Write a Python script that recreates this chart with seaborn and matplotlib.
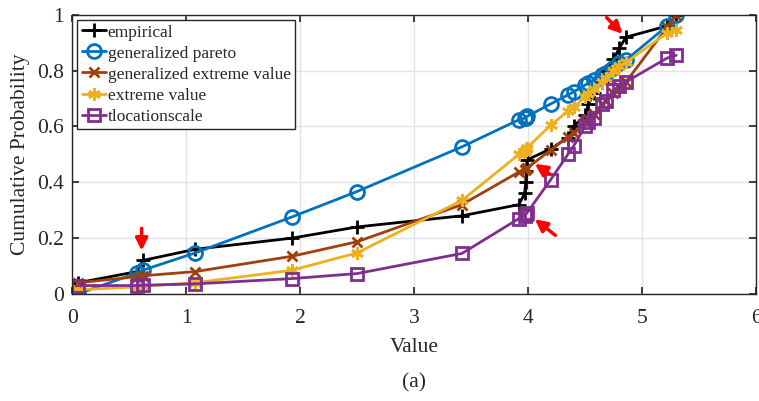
import numpy as np
import pandas as pd
import seaborn as sns
import matplotlib.pyplot as plt
from matplotlib.ticker import FormatStrFormatter

# sorted sample values (x positions shared by every curve)
values = [0.05, 0.57, 0.62, 1.08, 1.93, 2.50, 3.42, 3.92, 3.97, 3.98, 3.985, 3.99,
          4.20, 4.35, 4.40, 4.50, 4.53, 4.58, 4.65, 4.68, 4.75, 4.80, 4.86, 5.22, 5.30]

empirical = [0.04, 0.08, 0.12, 0.16, 0.20, 0.24, 0.28, 0.32, 0.36, 0.40, 0.44, 0.48,
             0.52, 0.56, 0.60, 0.64, 0.68, 0.72, 0.76, 0.80, 0.84, 0.88, 0.92, 0.96, 1.00]
gen_pareto = [0.0, 0.075, 0.085, 0.147, 0.276, 0.367, 0.527, 0.624, 0.630, 0.632, 0.634, 0.636,
              0.681, 0.713, 0.724, 0.748, 0.756, 0.767, 0.785, 0.790, 0.810, 0.828, 0.838, 0.960, 1.0]
gen_extreme = [0.04, 0.062, 0.065, 0.080, 0.135, 0.187, 0.320, 0.437, 0.445, 0.447, 0.449, 0.450,
               0.516, 0.563, 0.578, 0.615, 0.625, 0.645, 0.680, 0.690, 0.720, 0.740, 0.760, 0.955, 1.0]
extreme = [0.015, 0.025, 0.028, 0.040, 0.085, 0.147, 0.335, 0.500, 0.510, 0.515, 0.520, 0.523,
           0.605, 0.655, 0.670, 0.705, 0.715, 0.735, 0.760, 0.775, 0.800, 0.815, 0.830, 0.935, 0.945]
tloc = [0.030, 0.030, 0.031, 0.036, 0.055, 0.073, 0.145, 0.270, 0.280, 0.285, 0.288, 0.290,
        0.410, 0.500, 0.530, 0.600, 0.615, 0.630, 0.680, 0.690, 0.730, 0.745, 0.760, 0.845, 0.855]

series = {
    "empirical": empirical,
    "generalized pareto": gen_pareto,
    "generalized extreme value": gen_extreme,
    "extreme value": extreme,
    "tlocationscale": tloc,
}

colors = ["black", "#0072BD", "#A2400C", "#EDB120", "#7E2F8E"]
markers = ["+", "o", "x", (6, 2, 0), "s"]
msizes = [10, 10, 7, 9, 8]

sns.set_theme(style="ticks")
plt.rcParams["font.family"] = ["Liberation Serif", "DejaVu Serif"]

fig = plt.figure(figsize=(7.59, 4.01), dpi=100)
ax = fig.add_axes([0.095, 0.267, 0.901, 0.696])

for (name, vals), c, m, ms in zip(series.items(), colors, markers, msizes):
    df = pd.DataFrame({"Value": values, "CDF": vals})
    sns.lineplot(data=df, x="Value", y="CDF", ax=ax, color=c, marker=m,
                 markersize=ms, markeredgewidth=2, linewidth=2,
                 markerfacecolor="none" if m in ("o", "s") else c,
                 markeredgecolor=c, estimator=None, sort=False, label=name)

# red arrows (tail, tip) in data units
arrows = [((0.61, 0.235), (0.61, 0.155)),
          ((4.69, 0.99), (4.83, 0.932)),
          ((4.19, 0.43), (4.06, 0.466)),
          ((4.24, 0.21), (4.06, 0.268))]
for tail, tip in arrows:
    ax.annotate("", xy=tip, xytext=tail,
                arrowprops=dict(arrowstyle="-|>,head_length=0.6,head_width=0.3",
                                color="red", lw=2.5, shrinkA=0, shrinkB=0))

ax.set_xlim(0, 6)
ax.set_ylim(0, 1)
ax.set_xticks(range(0, 7))
ax.set_yticks([0, 0.2, 0.4, 0.6, 0.8, 1.0])
ax.yaxis.set_major_formatter(FormatStrFormatter("%g"))
ax.grid(True, color="#e3e3e3", linewidth=1)
ax.set_axisbelow(True)
for s in ax.spines.values():
    s.set_visible(True)
    s.set_color("#262626")
    s.set_linewidth(1)
ax.tick_params(direction="in", top=True, right=True, labelsize=15.5, length=5,
               color="#262626")
ax.tick_params(axis="x", pad=11)
ax.tick_params(axis="y", pad=6)
ax.set_xlabel("Value", fontsize=15.5, labelpad=7)
ax.set_ylabel("Cumulative Probability", fontsize=15.5, labelpad=5)

leg = ax.legend(loc="upper left", fontsize=12.5, frameon=True, fancybox=False,
                edgecolor="#262626", framealpha=1, borderpad=0.25,
                labelspacing=0.28, handlelength=1.4, handletextpad=0.1,
                borderaxespad=0.3)
leg.get_frame().set_linewidth(1)

fig.text(0.545, 0.045, "(a)", ha="center", va="center", fontsize=15.5)

fig.savefig("out.png", dpi=100)
